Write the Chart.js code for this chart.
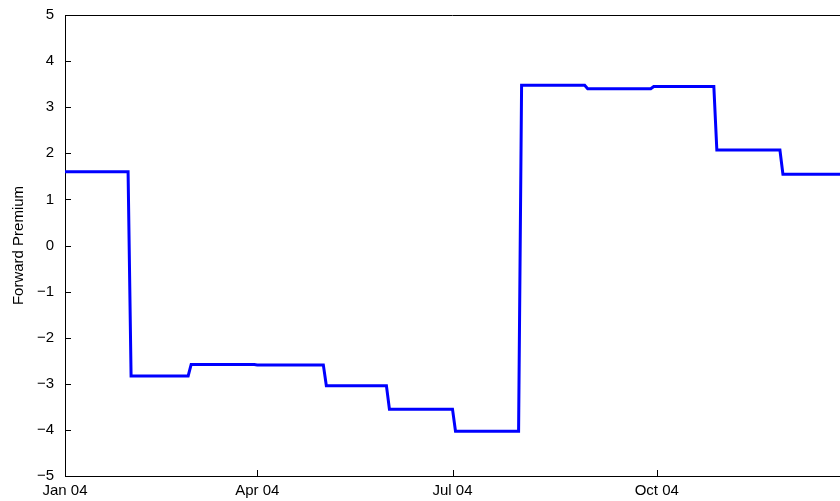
<!DOCTYPE html>
<html>
<head>
<meta charset="utf-8">
<script src="https://cdn.jsdelivr.net/npm/chart.js@4"></script>
<style>
  html, body { margin: 0; padding: 0; background: #fff; overflow: hidden; }
  canvas { display: block; }
</style>
</head>
<body>
<canvas id="fpChart" width="840" height="501"></canvas>
<script>
  // trading-day index of each breakpoint, and forward premium there
  var obsIndex = [0, 21, 22, 41, 42, 63, 64, 86, 87, 107, 108, 129, 130, 151, 152, 173, 174, 195, 196, 216, 217, 238, 239, 258];
  var premium = [1.6, 1.6, -2.83, -2.83, -2.58, -2.58, -2.59, -2.59, -3.04, -3.04, -3.55, -3.55,
                 -4.03, -4.03, 3.475, 3.475, 3.40, 3.40, 3.45, 3.45, 2.07, 2.07, 1.545, 1.545];

  var tickPos = [0, 64, 129, 197];
  var tickLabels = ['Jan 04', 'Apr 04', 'Jul 04', 'Oct 04'];
  var yTicks = [-5, -4, -3, -2, -1, 0, 1, 2, 3, 4, 5];

  var points = obsIndex.map(function (x, i) { return { x: x, y: premium[i] }; });
  var font = { family: '"Liberation Sans", Arial, sans-serif', size: 15 };

  // inward tick marks plus the top frame line
  var frame = {
    id: 'frame',
    afterDraw: function (chart) {
      var ctx = chart.ctx, a = chart.chartArea;
      var xs = chart.scales.x, ys = chart.scales.y;
      ctx.save();
      ctx.strokeStyle = '#000';
      ctx.lineWidth = 1;
      ctx.beginPath();
      ctx.moveTo(a.left, a.top + 0.5);
      ctx.lineTo(a.right, a.top + 0.5);
      yTicks.forEach(function (v) {
        var py = Math.round(ys.getPixelForValue(v)) + 0.5;
        ctx.moveTo(a.left, py);
        ctx.lineTo(a.left + 6, py);
      });
      tickPos.forEach(function (v) {
        var px = Math.round(xs.getPixelForValue(v)) + 0.5;
        ctx.moveTo(px, a.bottom);
        ctx.lineTo(px, a.bottom - 6);
      });
      ctx.stroke();
      ctx.restore();
    }
  };

  new Chart(document.getElementById('fpChart').getContext('2d'), {
    type: 'line',
    data: {
      datasets: [{
        data: points,
        borderColor: '#0000ff',
        borderWidth: 3,
        pointRadius: 0,
        tension: 0,
        fill: false
      }]
    },
    options: {
      responsive: false,
      animation: false,
      devicePixelRatio: 1,
      layout: { padding: { top: 15, left: 0, right: 0, bottom: 0 } },
      plugins: { legend: { display: false }, tooltip: { enabled: false } },
      scales: {
        x: {
          type: 'linear',
          min: 0,
          max: 258,
          afterBuildTicks: function (s) {
            s.ticks = tickPos.map(function (v) { return { value: v }; });
          },
          afterFit: function (s) {
            s.height = 25;
            s.paddingLeft = 0;
            s.paddingRight = 0;
          },
          grid: { display: false, drawTicks: false, tickLength: 0 },
          border: { display: true, color: '#000', width: 1 },
          ticks: {
            autoSkip: false,
            maxRotation: 0,
            padding: 6,
            color: '#000',
            font: font,
            callback: function (v) {
              var i = tickPos.indexOf(v);
              return i >= 0 ? tickLabels[i] : '';
            }
          }
        },
        y: {
          min: -5,
          max: 5,
          afterBuildTicks: function (s) {
            s.ticks = yTicks.map(function (v) { return { value: v }; });
          },
          afterFit: function (s) {
            s.width = 65;
            s.paddingTop = 0;
            s.paddingBottom = 0;
          },
          grid: { display: false, drawTicks: false, tickLength: 0 },
          border: { display: true, color: '#000', width: 1 },
          title: {
            display: true,
            text: 'Forward Premium',
            color: '#000',
            font: font,
            padding: { top: 10, bottom: 0 }
          },
          ticks: {
            padding: 11,
            color: '#000',
            font: font,
            callback: function (v) {
              return v < 0 ? '\u2212' + Math.abs(v) : String(v);
            }
          }
        }
      }
    },
    plugins: [frame]
  });
</script>
</body>
</html>
